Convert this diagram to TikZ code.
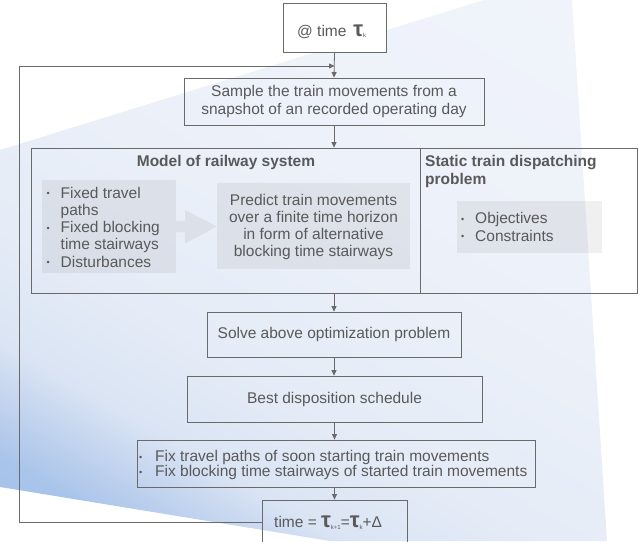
\documentclass[tikz,border=0pt]{standalone}
\usepackage{fontspec}
\setmainfont{Liberation Sans}
\usetikzlibrary{arrows.meta,calc}
\definecolor{ink}{HTML}{595959}
\definecolor{edge}{HTML}{6A6A6A}
\definecolor{bgA}{HTML}{9CBBE7}
\definecolor{bgB}{HTML}{A9C4EA}
\definecolor{bgC}{HTML}{C4D5EF}
\definecolor{bgD}{HTML}{DAE4F4}
\definecolor{bgE}{HTML}{E5ECF7}
\definecolor{bgF}{HTML}{EDF1F9}
\definecolor{bgG}{HTML}{F2F5FB}
\pgfdeclareverticalshading{backdrop}{100bp}{color(0bp)=(bgA); color(22bp)=(bgB); color(27bp)=(bgC);
  color(31bp)=(bgD); color(40bp)=(bgE); color(60bp)=(bgF); color(100bp)=(bgG)}
% big bold tau with a tiny index
\newcommand\tauk[1]{{\fontsize{22}{22}\selectfont\bfseries τ}\raisebox{-1.5pt}{\fontsize{6}{6}\selectfont #1}}
% small list bullet and hanging indent
\newcommand\bul{\makebox[14pt][l]{\raisebox{1.5pt}{\fontsize{9}{9}\selectfont •}}}
\newcommand\hang{\hspace*{14pt}}
\newcommand\fixbul{\makebox[16pt][l]{\raisebox{1.5pt}{\fontsize{9}{9}\selectfont •}}}
\begin{document}
\begin{tikzpicture}[x=1pt,y=-1pt,
  font=\fontsize{15.5}{17.2}\selectfont, text=ink,
  box/.style={draw=edge, line width=0.8pt, inner sep=0pt},
  panel/.style={fill=gray, fill opacity=0.12, inner sep=0pt},
  label/.style={inner sep=0pt},
  link/.style={draw=edge, line width=0.8pt, -{Triangle[length=5.5pt,width=5pt]}},
]
\useasboundingbox (0,0) rectangle (639,541);

% light blue backdrop
\shade[shading=backdrop, shading angle=-30]
  (0,150) -- (484,0) -- (572,0) -- (607,541) -- (330,541) -- (0,487) -- cycle;

% boxes of the loop
\node[box, fill=white, minimum width=103, minimum height=49] (top) at (334.5,28) {};
\node[label, anchor=base west] (toptxt) at (297,36) {@ time \,\tauk{k}};

\node[box, minimum width=300, minimum height=47, align=center] (sample) at (334,101.5)
  {Sample the train movements from a\\snapshot of an recorded operating day};

\node[box, minimum width=389, minimum height=145] (model) at (225.5,220.5) {};
\node[box, minimum width=217, minimum height=145] (static) at (528.5,220.5) {};
\node[label, anchor=base, font=\fontsize{15.5}{17.2}\selectfont\bfseries] (modeltitle) at (226,166) {Model of railway system};
\node[label, anchor=base west, align=left, font=\fontsize{15.5}{18}\selectfont\bfseries] (statictitle) at (425,184)
  {Static train dispatching\\problem};

% inputs of the model
\node[panel, minimum width=134, minimum height=93] (fixed) at (109,226.5) {};
\node[label, anchor=base west, align=left] (fixedtxt) at (46.5,267)
  {\bul Fixed travel\\\hang paths\\\bul Fixed blocking\\\hang time stairways\\\bul Disturbances};

\node[panel, minimum width=193, minimum height=86] (predict) at (313.5,226) {};
\node[label, align=center] (predicttxt) at (313.5,227)
  {Predict train movements\\over a finite time horizon\\in form of alternative\\blocking time stairways};

% block arrow from inputs to prediction
\fill[gray, fill opacity=0.12]
  ($(fixed.east)+(0,-5.5)$) -- ++(9,0) -- ++(0,-11) -- (predict.west |- fixed.east)
  -- ($(fixed.east)+(9,17)$) -- ++(0,-11) -- ($(fixed.east)+(0,5.5)$) -- cycle;

\node[panel, minimum width=145, minimum height=52] (cons) at (529.5,227) {};
\node[label, anchor=base west, align=left] (constxt) at (461,241)
  {\bul Objectives\\\bul Constraints};

\node[box, minimum width=254, minimum height=45] (solve) at (334,334.5) {Solve above optimization problem};
\node[box, minimum width=295, minimum height=46] (best) at (334.5,399) {Best disposition schedule};

\node[box, minimum width=398, minimum height=47] (fix) at (336,463.5) {};
\node[label, anchor=base west, align=left, font=\fontsize{15.5}{15}\selectfont] (fixtxt) at (139,476.7)
  {\fixbul Fix travel paths of soon starting train movements\\
   \fixbul Fix blocking time stairways of started train movements};

\node[box, minimum width=145, minimum height=44] (time) at (334.5,522) {};
\node[label, anchor=base west] (timetxt) at (274,527.7) {time = \tauk{k+1}=\tauk{k}+Δ};

% connectors
\coordinate (join) at (top.south |- 0,66);
\coordinate (loopB) at (19,522);
\coordinate (loopT) at (19,66);
\draw[link] (top.south) -- (sample.north);
\draw[link] (time.west) -- (loopB) -- (loopT) -- (join);
\draw[link] (sample.south) -- (sample.south |- model.north);
\draw[link] (solve.north |- model.south) -- (solve.north);
\draw[link] (solve.south) -- (solve.south |- best.north);
\draw[link] (best.south) -- (best.south |- fix.north);
\draw[link] (fix.south -| time.north) -- (time.north);
\end{tikzpicture}
\end{document}
